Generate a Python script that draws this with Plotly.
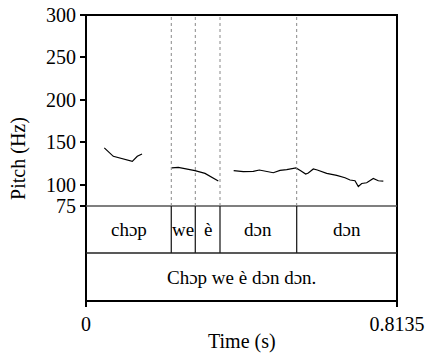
import plotly.graph_objects as go

# ---- data ----
total_dur = 0.8135
seg1_t = [0.0479, 0.0714, 0.1211, 0.1342, 0.1465]
seg1_f = [143.4, 133.5, 127.6, 133.5, 136.3]
seg2_t = [0.2242, 0.2414, 0.2851, 0.3113, 0.3461]
seg2_f = [119.8, 120.5, 116.6, 113.4, 104.4]
seg3_t = [0.3863, 0.4115, 0.4376, 0.4533, 0.4899, 0.5075, 0.5250, 0.5493, 0.5616,
          0.5747, 0.5815, 0.5946, 0.6050, 0.6296, 0.6558, 0.6775, 0.6906, 0.7036,
          0.7123, 0.7212, 0.7342, 0.7515, 0.7646, 0.7777]
seg3_f = [116.6, 115.4, 115.7, 117.4, 114.2, 116.9, 117.8, 119.8, 116.6,
          112.7, 113.8, 118.6, 117.4, 113.4, 111.0, 108.3, 105.6, 104.7,
          98.0, 101.5, 102.4, 107.5, 104.7, 104.4]

word_bounds = [0.2231, 0.2859, 0.3505, 0.5511]
word_labels = ["chɔp", "we", "è", "dɔn", "dɔn"]
sentence_label = "Chɔp we è dɔn dɔn."
pitch_ticks = [75, 100, 150, 200, 250, 300]
x_ticks = [0, total_dur]
x_ticktext = ["0", "0.8135"]

# ---- layout geometry (paper fractions) ----
pitch_bottom = 0.3322
tier_split = 0.1678
FONT = "Liberation Serif"
FS = 20

t_all = seg1_t + [None] + seg2_t + [None] + seg3_t
f_all = seg1_f + [None] + seg2_f + [None] + seg3_f

fig = go.Figure()
fig.add_trace(go.Scatter(x=t_all, y=f_all, mode="lines",
                         line=dict(color="black", width=1.2),
                         connectgaps=False, showlegend=False, hoverinfo="skip"))

shapes = []
shapes.append(dict(type="rect", xref="paper", yref="paper", x0=0, x1=1, y0=0, y1=1,
                   line=dict(color="black", width=2), layer="above"))
shapes.append(dict(type="line", xref="paper", yref="paper", x0=0, x1=1,
                   y0=pitch_bottom, y1=pitch_bottom, line=dict(color="#555555", width=1.3)))
shapes.append(dict(type="line", xref="paper", yref="paper", x0=0, x1=1,
                   y0=tier_split, y1=tier_split, line=dict(color="#222222", width=1.5)))
for b in word_bounds:
    shapes.append(dict(type="line", xref="x", yref="paper", x0=b, x1=b,
                       y0=tier_split, y1=pitch_bottom, line=dict(color="#222222", width=1.3)))
    shapes.append(dict(type="line", xref="x", yref="paper", x0=b, x1=b,
                       y0=pitch_bottom, y1=1, line=dict(color="#888888", width=1, dash="dot")))

annotations = []
edges = [0] + word_bounds + [total_dur]
for i, lab in enumerate(word_labels):
    annotations.append(dict(x=(edges[i] + edges[i + 1]) / 2, y=(tier_split + pitch_bottom) / 2,
                            xref="x", yref="paper", text=lab, showarrow=False,
                            xanchor="center", yanchor="middle",
                            font=dict(family=FONT, size=19, color="black")))
annotations.append(dict(x=total_dur / 2, y=tier_split / 2, xref="x", yref="paper",
                        text=sentence_label, showarrow=False,
                        xanchor="center", yanchor="middle",
                        font=dict(family=FONT, size=19, color="black")))
annotations.append(dict(x=-0.219, y=0.5, xref="paper", yref="paper", text="Pitch (Hz)",
                        textangle=-90, showarrow=False, xanchor="center", yanchor="middle",
                        font=dict(family=FONT, size=FS, color="black")))
annotations.append(dict(x=0.5, y=-0.143, xref="paper", yref="paper", text="Time (s)",
                        showarrow=False, xanchor="center", yanchor="middle",
                        font=dict(family=FONT, size=FS, color="black")))

fig.update_layout(
    width=425, height=357,
    margin=dict(l=86, r=28, t=15, b=56, autoexpand=False),
    paper_bgcolor="white", plot_bgcolor="white",
    font=dict(family=FONT, size=FS, color="black"),
    shapes=shapes, annotations=annotations,
    xaxis=dict(range=[0, total_dur], tickvals=x_ticks, ticktext=x_ticktext,
               ticks="outside", ticklen=5, tickwidth=1.5, tickcolor="black",
               showgrid=False, zeroline=False, showline=False, automargin=False,
               ticklabeloverflow="allow", anchor="free", position=0,
               tickfont=dict(family=FONT, size=FS, color="black")),
    yaxis=dict(domain=[pitch_bottom, 1], range=[75, 300], tickvals=pitch_ticks,
               ticks="outside", ticklen=5, tickwidth=1.5, tickcolor="black",
               showgrid=False, zeroline=False, showline=False, automargin=False,
               ticklabeloverflow="allow",
               tickfont=dict(family=FONT, size=FS, color="black")),
)

# remove the default 8px page margin so the 425x357 figure fills the window exactly
fig.write_html("out.html", config={"displayModeBar": False},
               post_script="document.body.style.margin='0';")
